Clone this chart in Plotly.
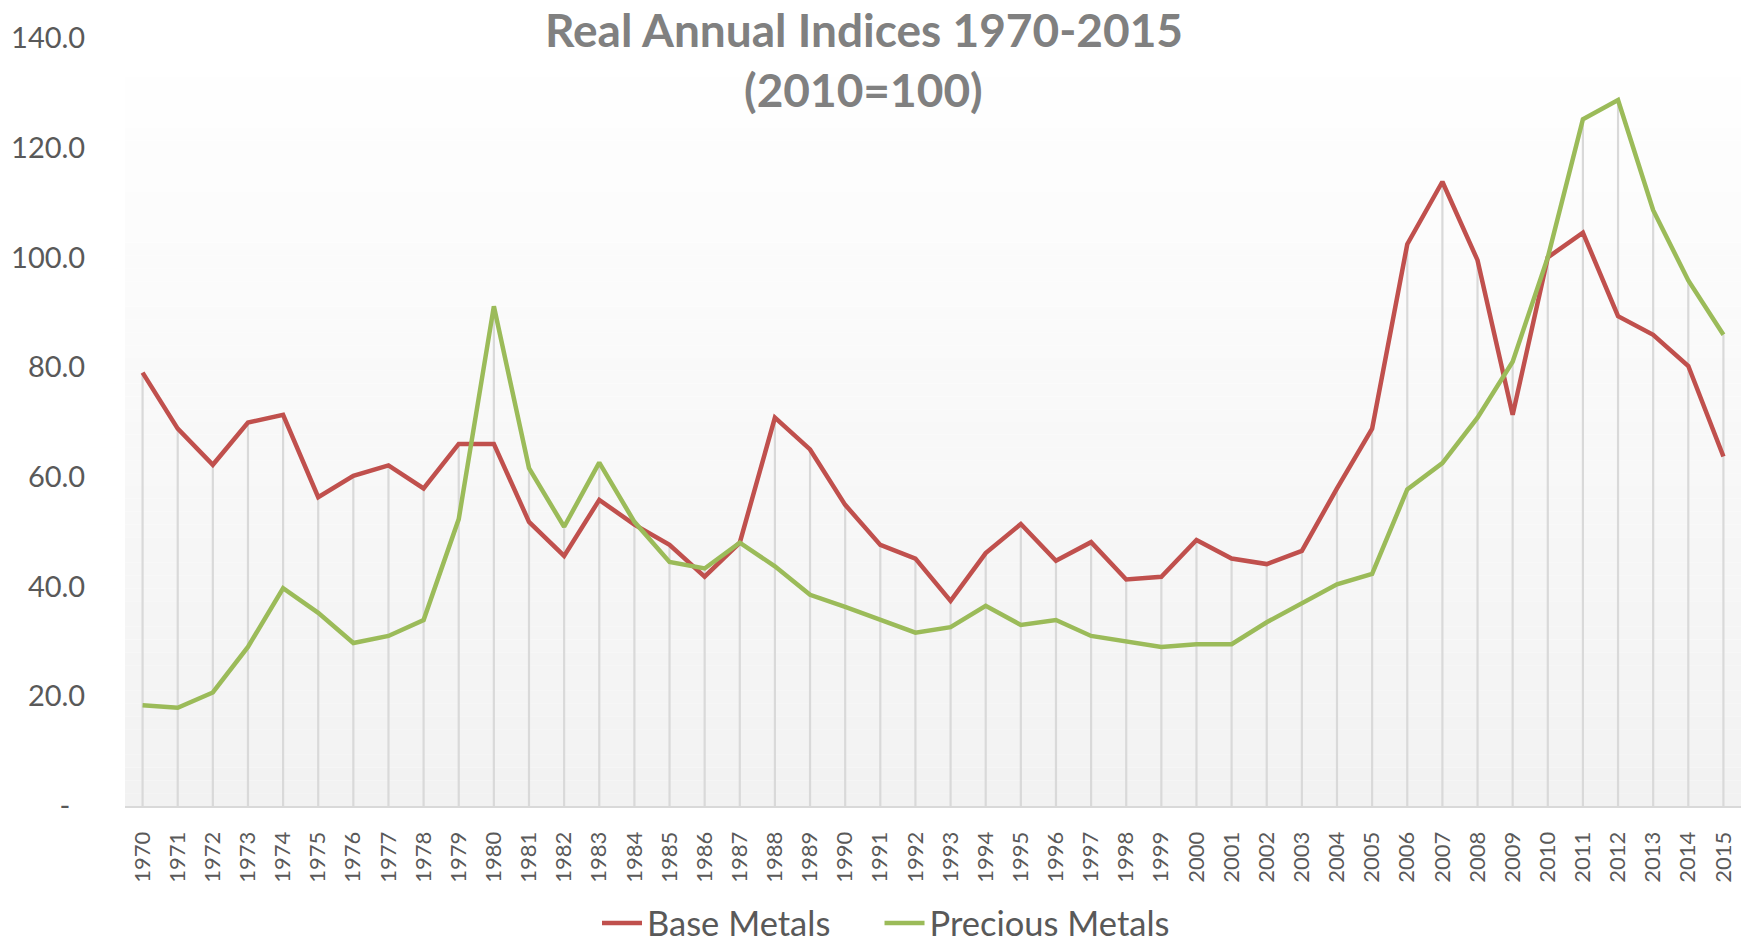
import plotly.graph_objects as go

years = [str(y) for y in range(1970, 2016)]
base_metals = [79.0, 68.8, 62.2, 69.9, 71.3, 56.3, 60.2, 62.1, 57.9, 66.0,
               66.0, 51.8, 45.6, 55.8, 51.3, 47.6, 41.8, 48.0, 70.8, 65.0,
               54.9, 47.6, 45.1, 37.4, 46.1, 51.4, 44.7, 48.1, 41.3, 41.8,
               48.5, 45.1, 44.1, 46.5, 57.9, 68.8, 102.4, 113.8, 99.5, 71.3,
               100.0, 104.5, 89.3, 85.9, 80.2, 63.7]
precious_metals = [18.35, 17.9, 20.7, 29.0, 39.7, 35.2, 29.7, 31.0, 33.9, 52.3,
                   91.1, 61.6, 50.9, 62.6, 51.8, 44.5, 43.3, 48.0, 43.7, 38.5,
                   36.3, 33.9, 31.6, 32.6, 36.5, 33.0, 33.9, 31.0, 30.0, 29.0,
                   29.5, 29.5, 33.5, 37.0, 40.4, 42.3, 57.7, 62.5, 70.8, 81.0,
                   100.0, 125.2, 128.7, 108.6, 95.8, 85.9]
y_tickvals = [0, 20, 40, 60, 80, 100, 120, 140]
y_ticktext = ["-\u00a0\u00a0", "20.0", "40.0", "60.0", "80.0", "100.0", "120.0", "140.0"]

FONT = "Lato"
TXT = "#595959"

# drop lines from axis to the higher of the two series
drop_x, drop_y = [], []
for yr, b, p in zip(years, base_metals, precious_metals):
    drop_x += [yr, yr, None]
    drop_y += [0, max(b, p), None]

fig = go.Figure()
fig.add_trace(go.Scatter(x=drop_x, y=drop_y, mode="lines",
                         line=dict(color="#D9D9D9", width=2.2),
                         showlegend=False, hoverinfo="skip"))
fig.add_trace(go.Scatter(x=years, y=base_metals, mode="lines",
                         name="Base Metals\u00a0\u00a0\u00a0\u00a0\u00a0",
                         line=dict(color="#C0504D", width=4.5)))
fig.add_trace(go.Scatter(x=years, y=precious_metals, mode="lines", name="Precious Metals",
                         line=dict(color="#9BBB59", width=4.5)))

# gradient plot background (white at top to light grey at bottom)
n = 60
shapes = []
for i in range(n):
    t = i / (n - 1)
    c = int(round(242 + (255 - 242) * t))
    shapes.append(dict(type="rect", xref="x domain", yref="y domain",
                       x0=0, x1=1, y0=i / n, y1=(i + 1) / n,
                       fillcolor=f"rgb({c},{c},{c})", line=dict(width=0),
                       layer="below"))

W, H = 1748, 947
fig.update_layout(
    width=W, height=H,
    margin=dict(l=125, r=7, t=38, b=141, autoexpand=False),
    paper_bgcolor="white", plot_bgcolor="white",
    font=dict(family=FONT, color=TXT),
    shapes=shapes,
    showlegend=True,
    legend=dict(orientation="h", xref="container", yref="container",
                x=886 / W, xanchor="center", y=1 - 923 / H, yanchor="middle",
                font=dict(size=34.5, color=TXT, family=FONT), itemwidth=40,
                bgcolor="rgba(0,0,0,0)"),
    annotations=[
        dict(text="<b>Real Annual Indices 1970-2015</b>", xref="paper", yref="paper",
             x=0.457, y=(806 - 29) / 768, xanchor="center", yanchor="middle",
             showarrow=False, font=dict(size=46, color="#808080", family=FONT)),
        dict(text="<b>(2010=100)</b>", xref="paper", yref="paper",
             x=0.457, y=(806 - 89) / 768, xanchor="center", yanchor="middle",
             showarrow=False, font=dict(size=46, color="#808080", family=FONT)),
    ],
)
fig.update_xaxes(type="category", categoryorder="array", categoryarray=years,
                 range=[-0.5, 45.5], tickangle=-90, showgrid=False, zeroline=False,
                 showline=True, linecolor="#D9D9D9", linewidth=2, automargin=False,
                 ticks="outside", ticklen=15, tickcolor="rgba(0,0,0,0)",
                 tickfont=dict(size=22, color=TXT, family=FONT))
fig.update_yaxes(range=[0, 140], tickvals=y_tickvals, ticktext=y_ticktext,
                 showgrid=False, zeroline=False, showline=False, automargin=False,
                 ticks="outside", ticklen=33, tickcolor="rgba(0,0,0,0)",
                 tickfont=dict(size=29, color=TXT, family=FONT))

fig.write_html("out.html", config={"displayModeBar": False},
               post_script="document.body.style.margin='0px';document.body.style.overflow='hidden';")
